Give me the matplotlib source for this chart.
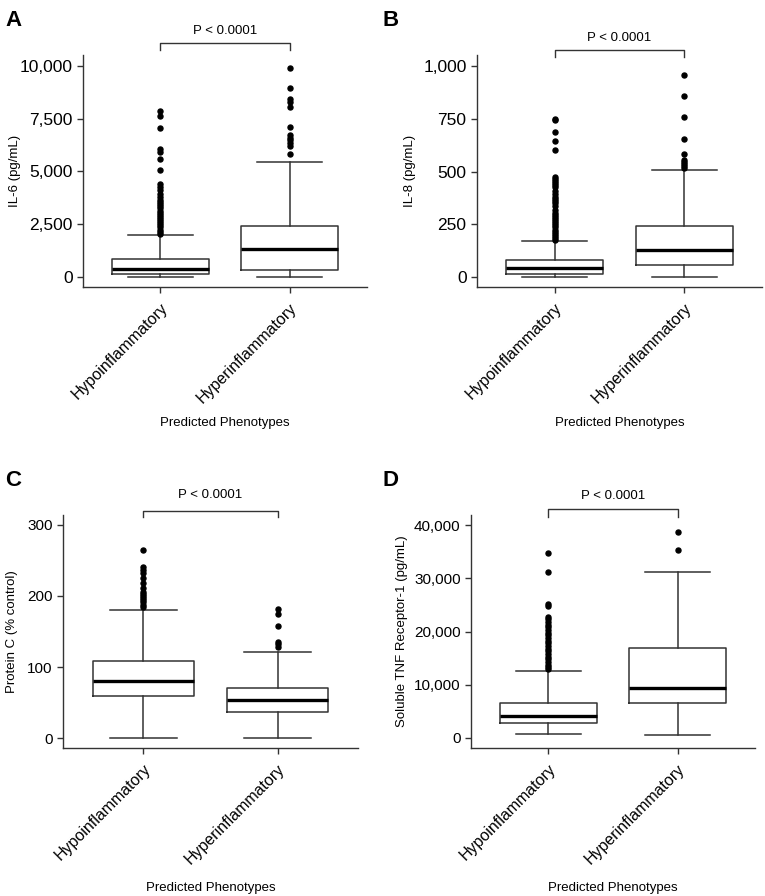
import matplotlib.pyplot as plt
from matplotlib.ticker import StrMethodFormatter, FixedLocator

plt.rcParams['font.family'] = ['Liberation Sans', 'DejaVu Sans']

categories = ['Hypoinflammatory', 'Hyperinflammatory']

# panel A: IL-6 (pg/mL)
il6_hypo = dict(med=380, q1=127, q3=870, whislo=0, whishi=1995,
                fliers=[7850, 7650, 7050, 6050, 5900, 5600, 5080, 4400, 4250, 4100,
                        3950, 3800, 3650, 3550, 3450, 3350, 3250, 3150, 3050, 2950,
                        2850, 2750, 2650, 2550, 2450, 2350, 2250, 2150, 2050])
il6_hyper = dict(med=1330, q1=350, q3=2420, whislo=0, whishi=5460,
                 fliers=[9920, 8940, 8430, 8310, 8040, 7120, 6720, 6610, 6490,
                         6360, 6230, 5840])

# panel B: IL-8 (pg/mL)
il8_hypo = dict(med=41, q1=16, q3=82, whislo=0, whishi=169,
                fliers=[750, 742, 685, 645, 600, 475, 465, 455, 445, 435, 425,
                        410, 395, 380, 370, 360, 350, 335, 320, 305, 295, 285,
                        275, 265, 255, 245, 235, 225, 215, 205, 195, 185, 178])
il8_hyper = dict(med=130, q1=59, q3=240, whislo=0, whishi=509,
                 fliers=[957, 859, 759, 652, 585, 553, 545, 535, 525, 515])

# panel C: Protein C (% control)
pc_hypo = dict(med=80, q1=59, q3=109, whislo=0, whishi=180,
               fliers=[265, 241, 236, 232, 225, 218, 211, 206, 203, 200, 197,
                       194, 191, 188, 185])
pc_hyper = dict(med=53, q1=36, q3=71, whislo=0, whishi=121,
                fliers=[181, 174, 158, 135, 132, 128])

# panel D: Soluble TNF Receptor-1 (pg/mL)
tnf_hypo = dict(med=4200, q1=2800, q3=6560, whislo=800, whishi=12500,
                fliers=[34800, 31100, 25200, 24700, 22800, 22300, 21800, 21300,
                        20800, 20300, 19800, 19300, 18800, 18300, 17800, 17300,
                        16800, 16300, 15800, 15300, 14800, 14300, 13800, 13300, 12900])
tnf_hyper = dict(med=9300, q1=6560, q3=16900, whislo=650, whishi=31250,
                 fliers=[38600, 35300])

panels = [
    ('A', [il6_hypo, il6_hyper], 'IL-6 (pg/mL)', [0, 2500, 5000, 7500, 10000], (-475, 10520)),
    ('B', [il8_hypo, il8_hyper], 'IL-8 (pg/mL)', [0, 250, 500, 750, 1000], (-47, 1052)),
    ('C', [pc_hypo, pc_hyper], 'Protein C (% control)', [0, 100, 200, 300], (-14, 314)),
    ('D', [tnf_hypo, tnf_hyper], 'Soluble TNF Receptor-1 (pg/mL)',
     [0, 10000, 20000, 30000, 40000], (-1880, 41880)),
]

W, H = 765, 896
# axes boxes in pixels: left, right, top, bottom
boxes = [(83, 367, 55, 287), (477, 762, 55, 287), (63, 358, 515, 748), (471, 755, 515, 748)]
ylab_x = [-0.218, -0.214, -0.153, -0.222]
xlab_y = [-0.586, -0.586, -0.60, -0.60]
bracket = [(1.053, 1.022, 1.103), (1.022, 0.99, 1.073), (1.018, 0.99, 1.086), (1.026, 0.99, 1.082)]
tick_fs = [12.5, 12.5, 11, 11]
edge = '#333333'

fig = plt.figure(figsize=(W / 100, H / 100), dpi=100)
for i, (letter, stats, ylabel, yticks, ylim) in enumerate(panels):
    l, r, t, b = boxes[i]
    ax = fig.add_axes([l / W, 1 - b / H, (r - l) / W, (b - t) / H])
    for s in stats:
        s['label'] = ''
    ax.bxp(stats, positions=[1, 2], widths=0.75, capwidths=0.5, showfliers=True,
           boxprops=dict(color=edge, lw=1.1),
           whiskerprops=dict(color=edge, lw=1.1),
           capprops=dict(color=edge, lw=1.1),
           medianprops=dict(color='black', lw=2.4),
           flierprops=dict(marker='o', markersize=3.6, markerfacecolor='black',
                           markeredgecolor='black', lw=0))
    ax.set_xlim(0.4, 2.6)
    ax.set_ylim(*ylim)
    ax.yaxis.set_major_locator(FixedLocator(yticks))
    ax.yaxis.set_major_formatter(StrMethodFormatter('{x:,.0f}'))
    ax.set_xticks([1, 2])
    ax.set_xticklabels(categories, rotation=45, ha='right', rotation_mode='anchor',
                       fontsize=11.5)
    ax.tick_params(axis='y', labelsize=tick_fs[i], length=4.5, width=1, color=edge, pad=3)
    ax.tick_params(axis='x', length=4.5, width=1, color=edge, pad=5)
    for side in ['top', 'right']:
        ax.spines[side].set_visible(False)
    for side in ['left', 'bottom']:
        ax.spines[side].set_color(edge)
        ax.spines[side].set_linewidth(1)
    ax.set_ylabel(ylabel, fontsize=9.5)
    ax.yaxis.set_label_coords(ylab_x[i], 0.5)
    ax.text(0.5, xlab_y[i], 'Predicted Phenotypes', transform=ax.transAxes,
            ha='center', va='center', fontsize=9.5)

    # significance bracket
    yb, ye, yt = bracket[i]
    tr = ax.get_xaxis_transform()
    ax.plot([1, 1, 2, 2], [ye, yb, yb, ye], color=edge, lw=1, transform=tr, clip_on=False)
    ax.text(1.5, yt, 'P < 0.0001', transform=tr, ha='center', va='center', fontsize=9.5)

    fig.text((5 if l < 200 else 383) / W, 1 - (t - 35) / H, letter, fontsize=16,
             fontweight='bold', ha='left', va='center')

fig.savefig('out.png', dpi=100)
